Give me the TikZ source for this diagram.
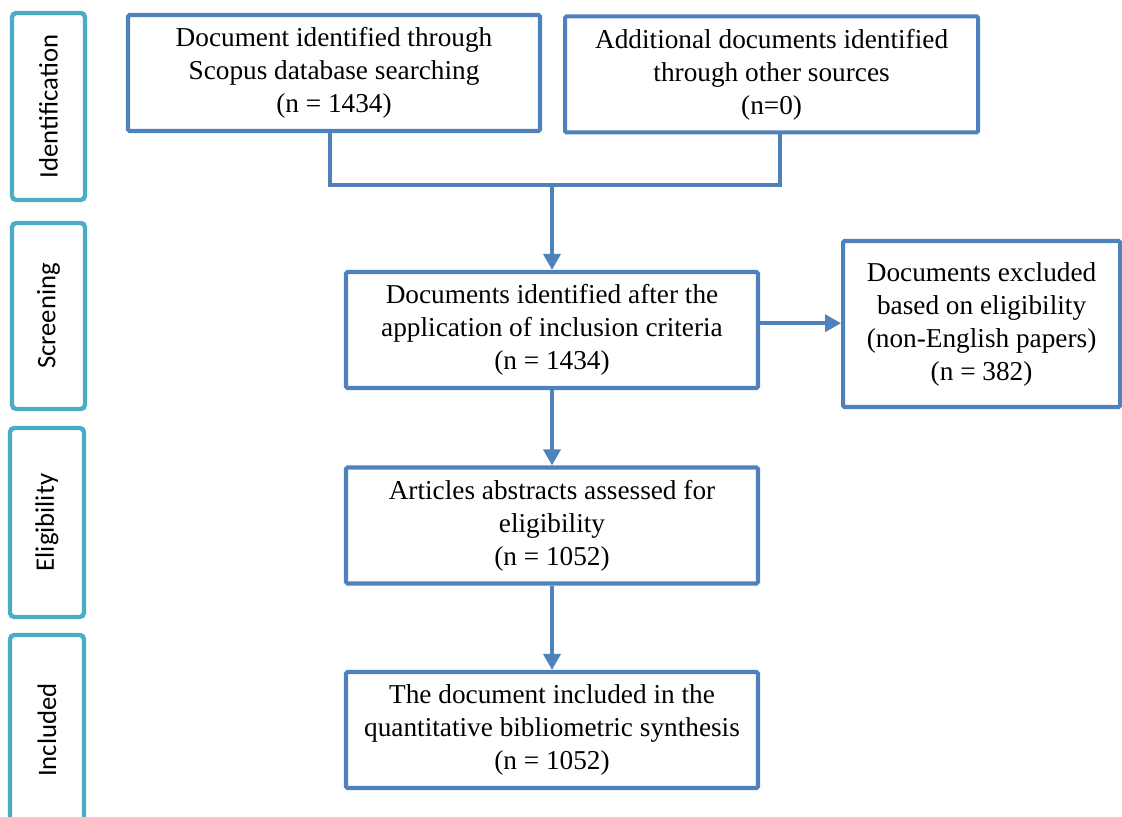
\documentclass[tikz,border=0pt]{standalone}
\usepackage{fontspec}
\setmainfont{Liberation Serif}
\newfontfamily\stagefont{Carlito}
\usepackage{xcolor}
\usepackage{tikz}
\usetikzlibrary{arrows.meta}
\definecolor{blueFrame}{HTML}{4F81BD}
\definecolor{cyanStage}{HTML}{4BACC6}

\begin{document}
\begin{tikzpicture}[x=1cm,y=1cm]

        \tikzset{
            flowbox/.style={
                draw=blueFrame,
                line width=2.9pt,
                rounded corners=1pt,
                align=center,
                inner sep=0pt,
                minimum width=10.3cm,
                minimum height=2.9cm,
                font=\fontsize{19.4}{23.5}\selectfont
            },
            stagebox/.style={
                draw=cyanStage,
                line width=3.1pt,
                rounded corners=3pt,
                rotate=90,
                inner sep=0pt,
                minimum height=1.825cm,
                font=\stagefont\fontsize{19}{23}\selectfont
            },
            link/.style={
                draw=blueFrame,
                line width=2.9pt
            },
            flowarrow/.style={
                link,
                -{Triangle[width=0.42cm,length=0.4cm]}
            }
        }

        \useasboundingbox (0,0) rectangle (28.05,20.4);

        % stages on the left
        \node[stagebox, minimum width=4.675cm] (identification) at (1.2125,17.7375) {Identification};
        \node[stagebox, minimum width=4.65cm] (screening) at (1.2125,12.5) {Screening};
        \node[stagebox, minimum width=4.725cm, minimum height=1.85cm] (eligibility) at (1.175,7.3375) {Eligibility};
        \node[stagebox, minimum width=4.75cm, minimum height=1.85cm] (included) at (1.175,2.15) {Included};

        % flow boxes
        \node[flowbox] (scopus) at (8.35,18.575) {Document identified through\\Scopus database searching\\(n = 1434)};
        \node[flowbox, minimum width=10.325cm] (other) at (19.29,18.54) {Additional documents identified\\through other sources\\(n=0)};
        \node[flowbox] (criteria) at (13.8,12.15) {Documents identified after the\\application of inclusion criteria\\(n = 1434)};
        \node[flowbox, minimum width=6.925cm, minimum height=4.15cm] (excluded) at (24.54,12.3) {Documents excluded\\based on eligibility\\(non-English papers)\\(n = 382)};
        \node[flowbox] (abstracts) at (13.8,7.2625) {Articles abstracts assessed for\\eligibility\\(n = 1052)};
        \node[flowbox] (synthesis) at (13.8,2.15) {The document included in the\\quantitative bibliometric synthesis\\(n = 1052)};

        % connectors
        \coordinate (join) at (13.8,15.775);
        \draw[link] ([xshift=-0.1cm]scopus.south) |- (join) -| ([xshift=0.22cm]other.south);
        \draw[flowarrow] (join) -- (criteria.north);
        \draw[flowarrow] ([yshift=0.17cm]criteria.east) -- ([yshift=0.17cm]criteria.east -| excluded.west);
        \draw[flowarrow] (criteria.south) -- (abstracts.north);
        \draw[flowarrow] (abstracts.south) -- (synthesis.north);

        \end{tikzpicture}
\end{document}
